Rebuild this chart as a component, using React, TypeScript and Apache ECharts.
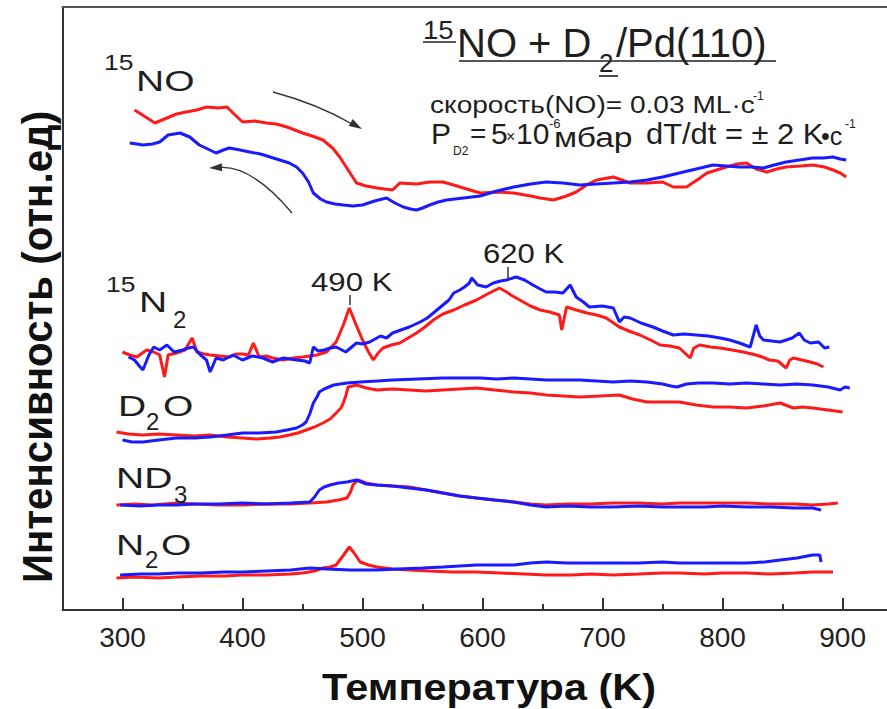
import React, { useEffect, useRef } from "react";
import * as echarts from "echarts";

const FONT = "'Liberation Sans', Arial, Helvetica, sans-serif";
const RED = "#ff1a1a";
const BLUE = "#1a1aff";

// x: temperature (K); y: intensity (arb. units, stacked traces)
const xTicks = [300, 400, 500, 600, 700, 800, 900];
const xMinorTicks = [350, 450, 550, 650, 750, 850];

const noHeat = [
  [310, 500], [318, 494], [327, 487], [337, 492], [345, 496], [353, 498], [362, 500], [370, 503], [380, 502], [387, 503],
  [393, 496], [400, 488], [410, 489], [420, 487], [428, 486], [437, 483], [450, 477], [458, 474], [467, 470], [475, 462],
  [481, 453], [488, 440], [495, 427], [503, 424], [512, 422], [525, 420], [531, 427], [545, 426], [556, 428], [567, 428],
  [576, 425], [584, 422], [598, 417], [612, 418], [626, 417], [640, 414], [648, 412], [659, 410], [670, 414], [678, 418],
  [688, 426], [695, 430], [709, 433], [716, 430], [723, 427], [737, 427], [750, 428], [759, 423], [770, 423], [780, 431],
  [787, 437], [795, 440], [803, 443], [812, 446], [820, 447], [828, 441], [837, 438], [845, 441], [853, 443], [865, 444],
  [875, 445], [885, 443], [892, 440], [898, 437], [903, 433]
];
const noCool = [
  [306, 467], [312, 466], [317, 465], [325, 466], [331, 468], [338, 475], [343, 476], [348, 477], [356, 473], [364, 465],
  [371, 461], [378, 457], [384, 460], [389, 462], [398, 460], [406, 458], [415, 456], [423, 453], [431, 450], [439, 447],
  [445, 443], [450, 437], [455, 428], [459, 417], [465, 411], [470, 408], [477, 406], [484, 405], [492, 404], [500, 405],
  [510, 409], [520, 412], [527, 407], [534, 403], [540, 401], [545, 400], [550, 402], [556, 405], [563, 408], [570, 410],
  [584, 412], [598, 414], [612, 419], [626, 423], [640, 426], [653, 428], [667, 427], [681, 425], [695, 426], [709, 427],
  [723, 428], [737, 430], [750, 433], [764, 437], [778, 441], [792, 445], [803, 444], [814, 443], [824, 443], [834, 442],
  [843, 445], [853, 448], [864, 450], [875, 452], [884, 452], [892, 453], [898, 451], [903, 450]
];

const n2Heat = [
  [300, 258], [306, 255], [312, 253], [320, 260], [326, 258], [331, 255], [335, 233], [338, 255], [345, 257], [352, 260],
  [358, 272], [362, 258], [368, 256], [373, 255], [381, 254], [389, 253], [395, 256], [400, 256], [405, 255], [409, 267],
  [414, 253], [420, 254], [425, 252], [434, 250], [442, 252], [450, 253], [456, 254], [462, 255], [470, 258], [478, 268],
  [484, 285], [489, 302], [494, 287], [500, 270], [505, 258], [509, 250], [513, 257], [517, 262], [524, 265], [531, 267],
  [538, 272], [545, 277], [552, 283], [559, 290], [567, 296], [576, 300], [585, 305], [595, 310], [604, 316], [614, 322],
  [620, 318], [625, 314], [631, 310], [640, 304], [648, 300], [656, 298], [664, 295], [666, 280], [670, 303], [678, 300],
  [687, 297], [695, 295], [703, 292], [714, 283], [722, 279], [731, 275], [740, 270], [748, 265], [756, 264], [764, 262],
  [773, 252], [776, 262], [781, 265], [790, 263], [798, 262], [808, 260], [817, 258], [828, 255], [833, 253], [839, 250],
  [846, 249], [853, 242], [856, 250], [859, 252], [866, 250], [873, 248], [879, 246], [884, 243]
];
const n2Cool = [
  [305, 253], [310, 250], [314, 244], [317, 240], [322, 255], [326, 263], [331, 260], [337, 265], [343, 258], [350, 260],
  [355, 262], [359, 263], [365, 255], [370, 250], [373, 238], [378, 252], [384, 250], [392, 255], [400, 250], [408, 254],
  [417, 252], [425, 248], [434, 252], [445, 250], [452, 249], [456, 247], [459, 263], [463, 259], [468, 260], [473, 262],
  [478, 263], [486, 258], [490, 262], [495, 267], [500, 266], [506, 268], [515, 274], [520, 272], [525, 277], [532, 280],
  [539, 283], [548, 288], [554, 292], [559, 297], [567, 305], [572, 310], [576, 317], [581, 320], [585, 323], [589, 327],
  [591, 332], [596, 325], [603, 323], [609, 327], [615, 329], [620, 330], [628, 333], [635, 330], [642, 325], [648, 321],
  [653, 318], [660, 318], [667, 317], [673, 325], [678, 313], [684, 308], [689, 303], [700, 304], [709, 302], [714, 288],
  [718, 293], [723, 292], [732, 287], [742, 283], [750, 279], [759, 275], [768, 276], [778, 275], [788, 274], [798, 272],
  [806, 270], [814, 267], [823, 263], [828, 285], [831, 274], [834, 270], [841, 269], [848, 268], [858, 272], [864, 277],
  [868, 270], [873, 267], [880, 268], [885, 262], [889, 263]
];

const d2oHeat = [
  [295, 178], [305, 176], [317, 175], [330, 176], [345, 175], [360, 174], [373, 175], [387, 173], [400, 172], [412, 171],
  [423, 172], [431, 173], [439, 175], [446, 177], [453, 180], [460, 183], [467, 187], [473, 191], [478, 197], [482, 202],
  [484, 207], [486, 214], [488, 223], [495, 225], [503, 222], [512, 220], [525, 221], [539, 220], [553, 219], [567, 220],
  [581, 221], [595, 222], [610, 220], [626, 218], [640, 217], [653, 215], [667, 214], [681, 213], [698, 214], [714, 215],
  [725, 211], [737, 208], [750, 208], [764, 208], [778, 205], [792, 203], [806, 203], [820, 202], [834, 204], [848, 207],
  [859, 202], [867, 203], [875, 202], [888, 200], [900, 198]
];
const d2oCool = [
  [300, 170], [308, 168], [317, 168], [330, 170], [345, 172], [360, 172], [373, 173], [387, 175], [400, 177], [414, 177],
  [428, 178], [437, 180], [445, 182], [450, 185], [453, 188], [456, 196], [459, 207], [462, 213], [464, 218], [468, 221],
  [472, 223], [476, 225], [487, 227], [498, 228], [512, 229], [525, 230], [546, 231], [567, 232], [583, 232], [598, 232],
  [612, 231], [626, 232], [640, 231], [653, 230], [667, 230], [681, 230], [695, 229], [709, 228], [723, 229], [737, 228],
  [750, 226], [757, 224], [762, 223], [770, 226], [780, 227], [792, 227], [806, 226], [820, 227], [834, 226], [848, 225],
  [862, 226], [875, 225], [888, 223], [898, 220], [902, 223], [906, 222]
];

const nd3Heat = [
  [295, 105], [310, 106], [325, 105], [345, 107], [360, 106], [380, 105], [400, 105], [420, 106], [440, 106], [456, 107],
  [470, 108], [480, 110], [487, 112], [490, 118], [492, 125], [496, 130], [503, 127], [512, 125], [525, 124], [539, 123],
  [553, 120], [567, 117], [581, 114], [595, 112], [610, 110], [626, 108], [640, 106], [653, 105], [670, 106], [690, 106],
  [709, 107], [730, 107], [750, 106], [764, 107], [785, 107], [800, 107], [820, 107], [840, 106], [860, 106], [875, 105],
  [888, 106], [896, 107]
];
const nd3Cool = [
  [298, 105], [315, 104], [330, 105], [345, 105], [360, 106], [380, 106], [400, 107], [420, 106], [440, 107], [456, 108],
  [460, 113], [464, 120], [468, 123], [473, 125], [480, 127], [487, 128], [495, 130], [503, 126], [512, 125], [525, 124],
  [539, 122], [553, 120], [567, 117], [581, 114], [595, 112], [610, 110], [626, 108], [640, 105], [653, 103], [670, 104],
  [690, 103], [709, 103], [730, 104], [750, 103], [764, 103], [785, 103], [800, 104], [820, 103], [840, 103], [860, 102],
  [875, 102], [882, 100]
];

const n2oHeat = [
  [295, 32], [310, 33], [330, 32], [345, 33], [365, 34], [385, 34], [400, 35], [420, 35], [440, 36], [450, 37],
  [460, 39], [467, 42], [473, 43], [478, 45], [483, 53], [489, 63], [493, 57], [498, 48], [505, 45], [512, 43],
  [525, 41], [539, 40], [555, 39], [575, 38], [595, 38], [615, 37], [635, 36], [653, 35], [675, 35], [690, 36],
  [709, 35], [730, 36], [750, 37], [764, 37], [785, 36], [800, 37], [820, 37], [840, 36], [860, 37], [875, 38],
  [885, 38], [892, 38]
];
const n2oCool = [
  [298, 35], [315, 36], [330, 36], [345, 37], [365, 37], [385, 38], [400, 38], [420, 39], [440, 40], [456, 42],
  [470, 41], [490, 40], [512, 40], [530, 41], [550, 42], [567, 43], [581, 44], [595, 45], [610, 45], [626, 45],
  [640, 47], [653, 48], [670, 47], [690, 47], [709, 47], [730, 47], [750, 48], [764, 47], [785, 47], [800, 47],
  [820, 47], [835, 48], [848, 50], [862, 52], [875, 55], [881, 55], [882, 48]
];

const traces = [
  { name: "15NO heating", data: noHeat, color: RED },
  { name: "15N2 heating", data: n2Heat, color: RED },
  { name: "D2O heating", data: d2oHeat, color: RED },
  { name: "ND3 heating", data: nd3Heat, color: RED },
  { name: "N2O heating", data: n2oHeat, color: RED },
  { name: "15NO cooling", data: noCool, color: BLUE },
  { name: "15N2 cooling", data: n2Cool, color: BLUE },
  { name: "D2O cooling", data: d2oCool, color: BLUE },
  { name: "ND3 cooling", data: nd3Cool, color: BLUE },
  { name: "N2O cooling", data: n2oCool, color: BLUE },
];

function txt(text: string, x: number, y: number, size: number, o: any = {}) {
  return {
    type: "text",
    x,
    y,
    scaleX: o.sx ?? 1,
    rotation: o.rot ?? 0,
    z: 10,
    style: {
      text,
      fontSize: size,
      fontFamily: FONT,
      fontWeight: o.bold ? "bold" : "normal",
      fill: o.fill ?? "#1e1e1e",
      align: o.align ?? "left",
      verticalAlign: "middle",
    },
  };
}

function hline(x1: number, x2: number, y: number, w = 1.6) {
  return { type: "line", z: 10, shape: { x1, y1: y, x2, y2: y }, style: { stroke: "#1e1e1e", lineWidth: w } };
}

export default function App() {
  const ref = useRef<HTMLDivElement>(null);
  useEffect(() => {
    if (!ref.current) return;
    const chart = echarts.init(ref.current, null, { renderer: "svg" });
    const axisColor = "#333";
    const option: any = {
      animation: false,
      backgroundColor: "#fff",
      grid: { left: 62.5, right: 0, top: 7, bottom: 99 },
      xAxis: [
        {
          type: "value",
          min: 250,
          max: 937,
          axisLine: { show: true, lineStyle: { color: axisColor, width: 2 } },
          axisTick: { show: true, inside: true, length: 12, customValues: xTicks, lineStyle: { color: axisColor, width: 2 } },
          axisLabel: { show: true, customValues: xTicks, margin: 13, fontSize: 28, fontFamily: FONT, color: "#222" },
          splitLine: { show: false },
        },
        {
          type: "value",
          min: 250,
          max: 937,
          position: "bottom",
          axisLine: { show: false },
          axisTick: { show: true, inside: true, length: 6, customValues: xMinorTicks, lineStyle: { color: axisColor, width: 2 } },
          axisLabel: { show: false },
          splitLine: { show: false },
        },
        {
          type: "value",
          min: 250,
          max: 937,
          position: "top",
          axisLine: { show: true, lineStyle: { color: "#555", width: 2 } },
          axisTick: { show: false },
          axisLabel: { show: false },
          splitLine: { show: false },
        },
      ],
      yAxis: {
        type: "value",
        min: 0,
        max: 603,
        axisLine: { show: true, lineStyle: { color: axisColor, width: 2 } },
        axisTick: { show: false },
        axisLabel: { show: false },
        splitLine: { show: false },
      },
      series: traces.map((t) => ({
        name: t.name,
        type: "line",
        xAxisIndex: 0,
        data: t.data,
        showSymbol: false,
        symbol: "none",
        lineStyle: { color: t.color, width: 3 },
        itemStyle: { color: t.color },
      })),
      graphic: [
        // axis titles
        txt("Температура (K)", 489, 687, 37, { bold: true, align: "center", fill: "#111", sx: 1.12 }),
        txt("Интенсивность (отн.ед)", 38, 347, 42, { bold: true, align: "center", rot: Math.PI / 2, fill: "#111", sx: 0.96 }),
        // title
        txt("15", 423, 30, 25, { sx: 1.1 }),
        txt("NO + D", 457, 43, 40),
        txt("2", 599, 63, 26),
        txt("/Pd(110)", 616, 43, 40),
        hline(423, 456, 42),
        hline(459, 776, 61),
        hline(599, 618, 76),
        // conditions
        txt("скорость(NO)= 0.03 ML·c", 430, 105, 24, { sx: 1.17 }),
        txt("-1", 753, 96, 12),
        txt("P", 431, 133, 30),
        txt("D2", 453, 151, 12),
        txt("=", 470, 133, 28),
        txt("5", 491, 133, 30),
        txt("×", 506, 136, 16),
        txt("10", 516, 133, 30),
        txt("-6", 549, 123, 13),
        txt("мбар", 554, 137, 28, { sx: 1.2 }),
        txt("dT/dt = ± 2 K", 646, 133, 30, { sx: 1.03 }),
        txt("•c", 821, 136, 25),
        txt("-1", 845, 124, 12),
        // trace labels
        txt("15", 104, 62, 22, { sx: 1.2 }),
        txt("NO", 136, 81, 30, { sx: 1.3 }),
        txt("15", 106, 284, 22, { sx: 1.2 }),
        txt("N", 139, 302, 30, { sx: 1.3 }),
        txt("2", 173, 319, 24),
        txt("D", 118, 406, 30, { sx: 1.3 }),
        txt("2", 146, 421, 24),
        txt("O", 163, 406, 30, { sx: 1.3 }),
        txt("ND", 116, 478, 30, { sx: 1.3 }),
        txt("3", 174, 494, 24),
        txt("N", 116, 545, 30, { sx: 1.3 }),
        txt("2", 145, 559, 24),
        txt("O", 161, 545, 30, { sx: 1.3 }),
        // peak labels
        txt("490 K", 311, 282, 26, { sx: 1.2 }),
        { type: "line", z: 10, shape: { x1: 350, y1: 295, x2: 350, y2: 305 }, style: { stroke: "#333", lineWidth: 1.5 } },
        txt("620 K", 483, 254, 27, { sx: 1.15 }),
        { type: "line", z: 10, shape: { x1: 508, y1: 267, x2: 508, y2: 281 }, style: { stroke: "#333", lineWidth: 1.5 } },
        // arrows
        { type: "bezierCurve", z: 10, shape: { x1: 273, y1: 92, cpx1: 317.5, cpy1: 104, x2: 352, y2: 124 }, style: { stroke: "#333", lineWidth: 1.3, fill: "none" } },
        { type: "polygon", z: 10, shape: { points: [[362, 129], [348.7, 126.1], [352.7, 119.1]] }, style: { fill: "#333" } },
        { type: "bezierCurve", z: 10, shape: { x1: 292, y1: 213, cpx1: 252, cpy1: 165.5, x2: 220, y2: 167.5 }, style: { stroke: "#333", lineWidth: 1.3, fill: "none" } },
        { type: "polygon", z: 10, shape: { points: [[209, 168], [221.8, 163.2], [222.2, 171.2]] }, style: { fill: "#333" } },
      ],
    };
    chart.setOption(option);
    return () => chart.dispose();
  }, []);
  return <div ref={ref} style={{ position: "absolute", left: 0, top: 0, width: 887, height: 709 }} />;
}
